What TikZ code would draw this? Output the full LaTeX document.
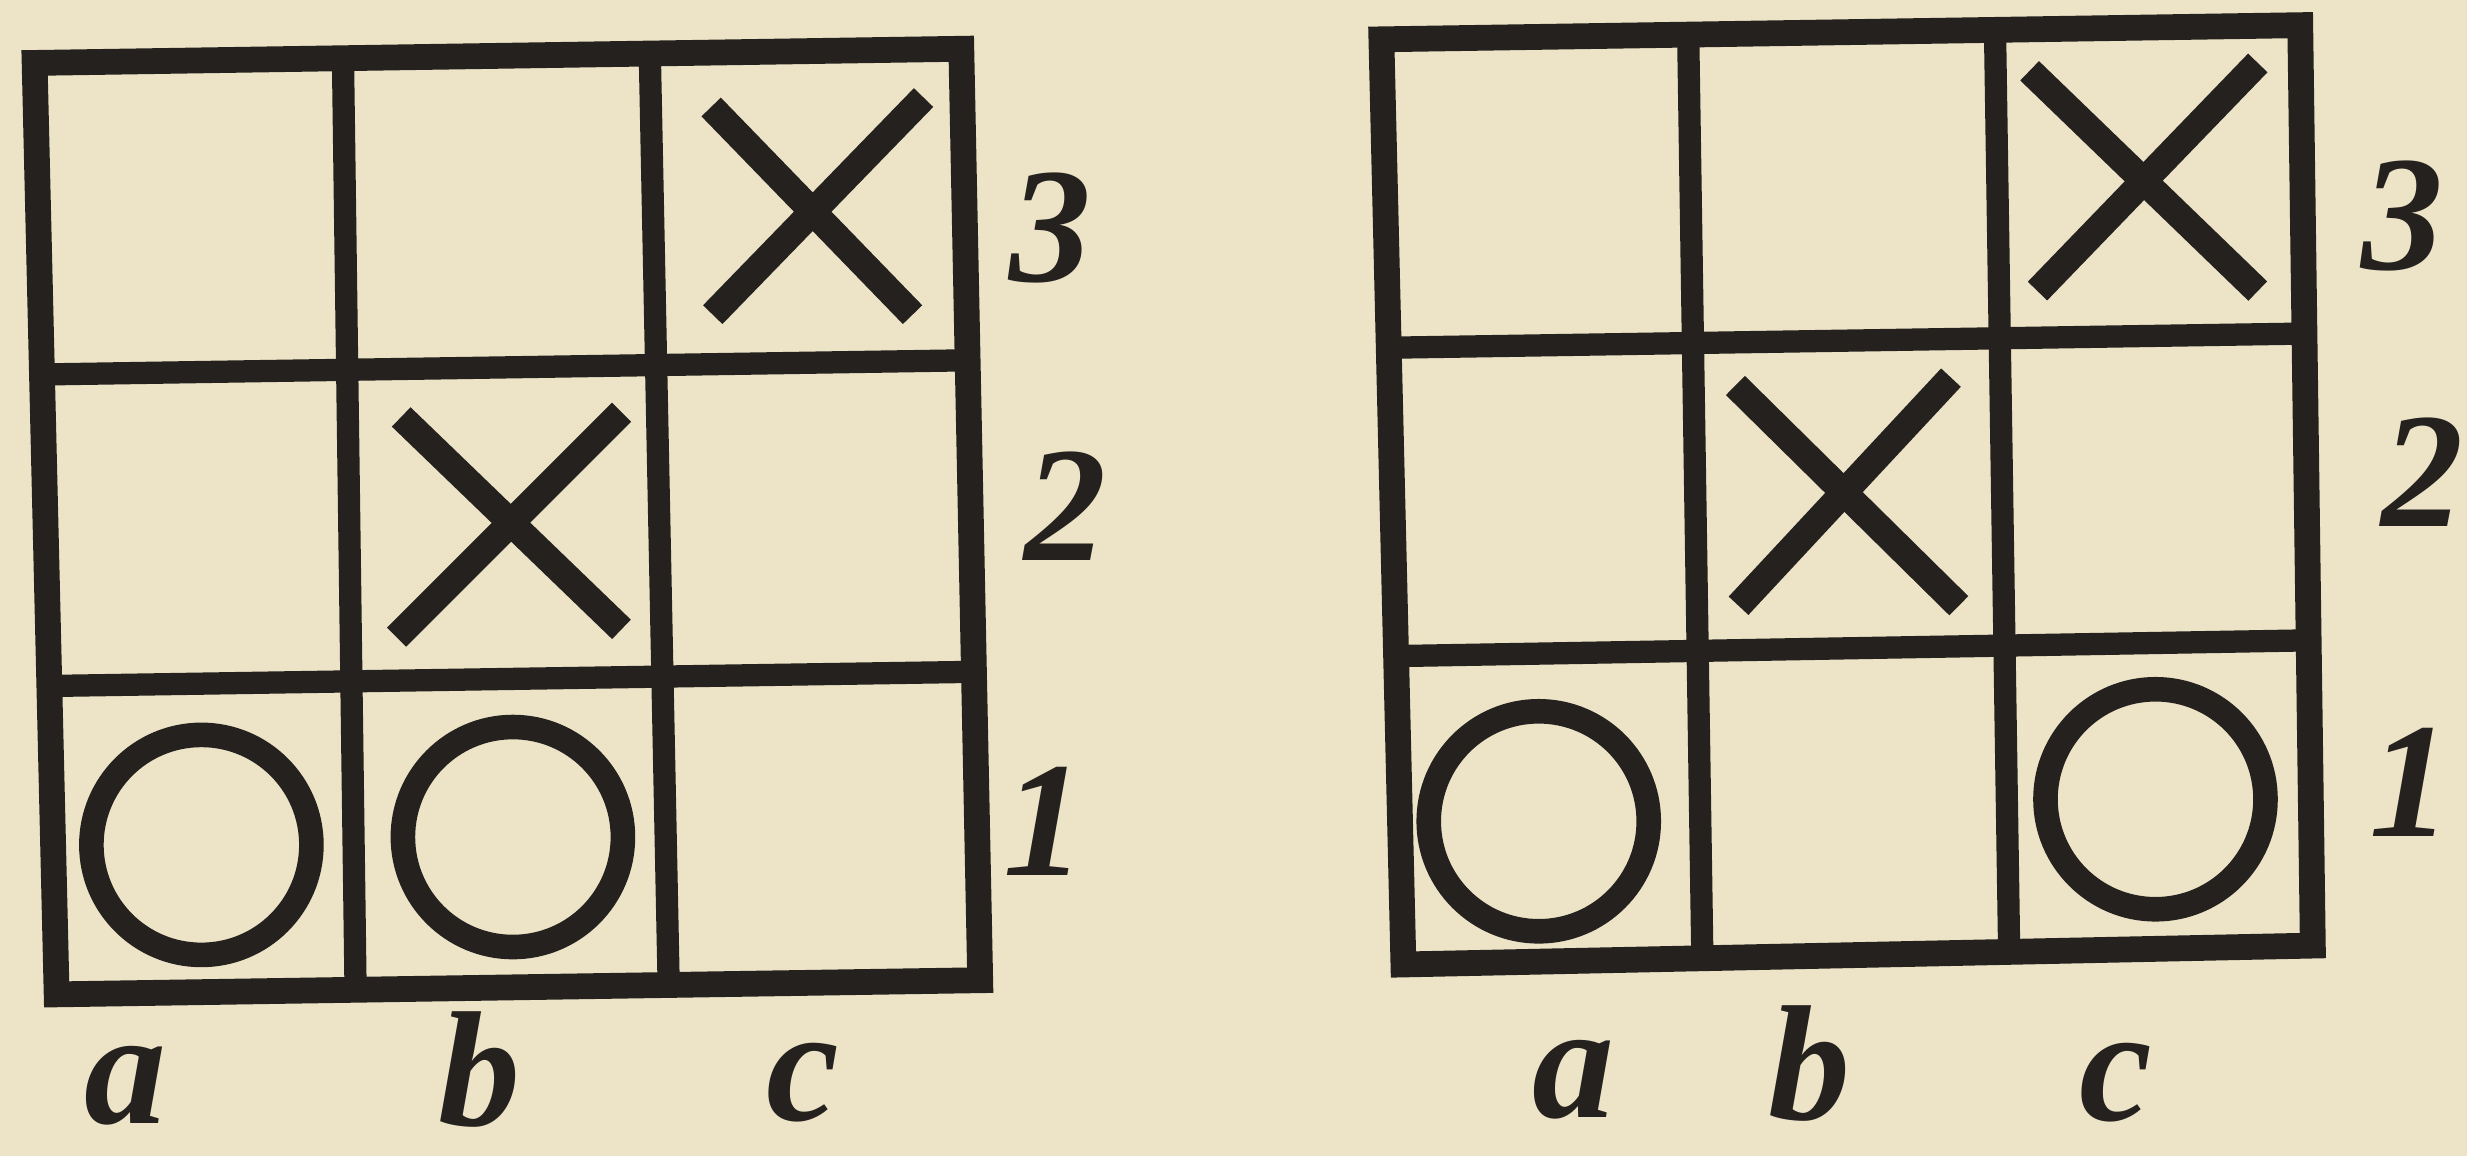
\documentclass[tikz,border=0pt]{standalone}
\usepackage{fontspec}
\setmainfont{Liberation Serif}
\definecolor{paper}{RGB}{237,228,200}
\definecolor{ink}{RGB}{36,33,30}
\begin{document}
\begin{tikzpicture}[x=0.0472cm,y=-0.0472cm,
  outer/.style={draw=ink,line width=22pt,line join=miter},
  inner/.style={draw=ink,line width=19pt},
  cross/.style={draw=ink,line width=23pt},
  ring/.style={draw=ink,line width=21pt},
  lbl/.style={text=ink,font=\fontsize{140}{140}\selectfont\bfseries\itshape,inner sep=0pt}]
\fill[paper] (0,0) rectangle (1568,735);
\useasboundingbox (0,0) rectangle (1568,735);
% left board
\draw[inner] (218,38) -- (226,629);
\draw[inner] (413,34) -- (425,626);
\draw[inner] (27,238) -- (615,229);
\draw[inner] (31,436) -- (619,427);
\draw[outer] (22,40) -- (611,31) -- (623,623) -- (36,632) -- cycle;
\draw[cross] (452,68) -- (580,200);
\draw[cross] (587,62) -- (453,200);
\draw[cross] (255,265) -- (395,400);
\draw[cross] (395,262) -- (252,405);
\draw[ring] (128,537) circle[radius=3.3cm];
\draw[ring] (326,532) circle[radius=3.3cm];
\node[lbl] (l3) at (668,145) {3};
\node[lbl] (l2) at (677,322) {2};
\node[lbl] (l1) at (664,522) {1};
\node[lbl] (la) at (80,690) {a};
\node[lbl] (lb) at (305,680) {b};
\node[lbl] (lc) at (510,688) {c};
% right board
\draw[inner] (1073,22) -- (1082,609);
\draw[inner] (1268,19) -- (1277,605);
\draw[inner] (883,221) -- (1465,212);
\draw[inner] (887,417) -- (1467,407);
\draw[outer] (878,25) -- (1462,16) -- (1470,601) -- (892,613) -- cycle;
\draw[cross] (1290,45) -- (1435,185);
\draw[cross] (1435,40) -- (1295,185);
\draw[cross] (1103,245) -- (1245,385);
\draw[cross] (1240,240) -- (1105,385);
\draw[ring] (978,522) circle[radius=3.3cm];
\draw[ring] (1370,508) circle[radius=3.3cm];
\node[lbl] (r3) at (1527,137) {3};
\node[lbl] (r2) at (1540,300) {2};
\node[lbl] (r1) at (1532,497) {1};
\node[lbl] (ra) at (1000,686) {a};
\node[lbl] (rb) at (1150,676) {b};
\node[lbl] (rc) at (1345,688) {c};
\end{tikzpicture}
\end{document}
